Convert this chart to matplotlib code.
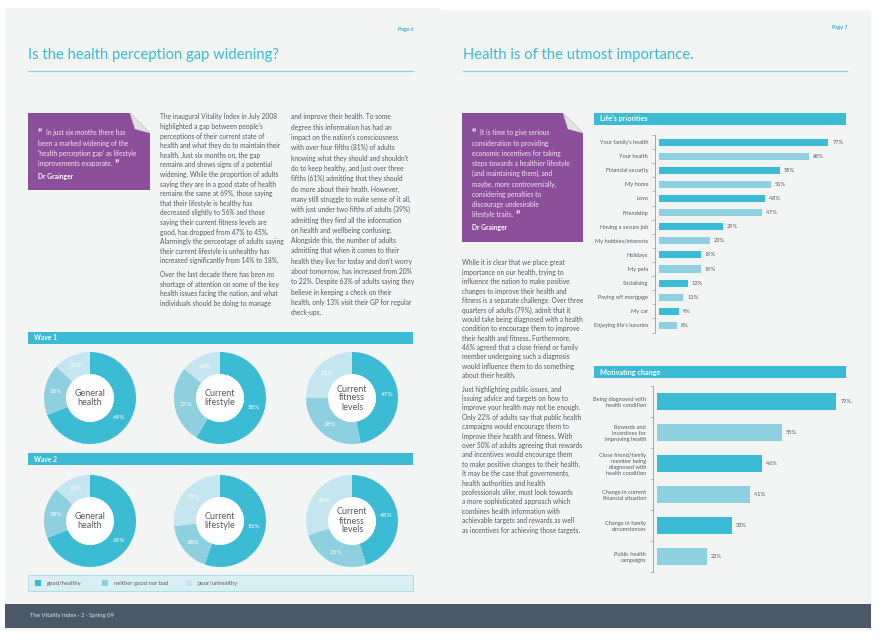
import matplotlib
matplotlib.use('Agg')
import matplotlib.pyplot as plt
from matplotlib.patches import Rectangle, Polygon, Circle
import numpy as np

plt.rcParams['font.family'] = ['Lato', 'DejaVu Sans']

W, H = 880, 640

donut_titles = ['General\nhealth', 'Current\nlifestyle', 'Current\nfitness\nlevels']
wave1_good = [69, 58, 47]
wave1_neither = [18, 27, 28]
wave1_poor = [13, 14, 25]
wave2_good = [69, 56, 45]
wave2_neither = [18, 18, 25]
wave2_poor = [13, 27, 30]
legend_labels = ['good/healthy', 'neither good nor bad', 'poor/unhealthy']

priorities = ["Your family's health", 'Your health', 'Financial security', 'My home',
              'Love', 'Friendship', 'Having a secure job', 'My hobbies/interests',
              'Holidays', 'My pets', 'Socialising', 'Paying off mortgage', 'My car',
              "Enjoying life's luxuries"]
priority_values = [77, 68, 55, 51, 48, 47, 29, 23, 19, 19, 13, 11, 9, 8]

motivators = ['Being diagnosed with\nhealth condition',
              'Rewards and\nincentives for\nimproving health',
              'Close friend/family\nmember being\ndiagnosed with\nhealth condition',
              'Change in current\nfinancial situation',
              'Change in family\ncircumstances',
              'Public health\ncampaigns']
motivator_values = [79, 55, 46, 41, 33, 22]

quote_left = ["In just six months there has",
              "been a marked widening of the",
              "'health perception gap' as lifestyle",
              "improvements evaporate."]
quote_right = ["It is time to give serious",
               "consideration to providing",
               "economic incentives for taking",
               "steps towards a healthier lifestyle",
               "(and maintaining them), and",
               "maybe, more controversially,",
               "considering penalties to",
               "discourage undesirable",
               "lifestyle traits."]

col1 = ["The inaugural Vitality Index in July 2008",
        "highlighted a gap between people's",
        "perceptions of their current state of",
        "health and what they do to maintain their",
        "health. Just six months on, the gap",
        "remains and shows signs of a potential",
        "widening. While the proportion of adults",
        "saying they are in a good state of health",
        "remains the same at 69%, those saying",
        "that their lifestyle is healthy has",
        "decreased slightly to 56% and those",
        "saying their current fitness levels are",
        "good, has dropped from 47% to 45%.",
        "Alarmingly the percentage of adults saying",
        "their current lifestyle is unhealthy has",
        "increased significantly from 14% to 18%.",
        "",
        "Over the last decade there has been no",
        "shortage of attention on some of the key",
        "health issues facing the nation, and what",
        "individuals should be doing to manage"]
col2 = ["and improve their health. To some",
        "degree this information has had an",
        "impact on the nation's consciousness",
        "with over four fifths (81%) of adults",
        "knowing what they should and shouldn't",
        "do to keep healthy, and just over three",
        "fifths (61%) admitting that they should",
        "do more about their heath. However,",
        "many still struggle to make sense of it all,",
        "with just under two fifths of adults (39%)",
        "admitting they find all the information",
        "on health and wellbeing confusing.",
        "Alongside this, the number of adults",
        "admitting that when it comes to their",
        "health they live for today and don't worry",
        "about tomorrow, has increased from 20%",
        "to 22%. Despite 63% of adults saying they",
        "believe in keeping a check on their",
        "health, only 13% visit their GP for regular",
        "check-ups."]
col3 = ["While it is clear that we place great",
        "importance on our health, trying to",
        "influence the nation to make positive",
        "changes to improve their health and",
        "fitness is a separate challenge. Over three",
        "quarters of adults (79%), admit that it",
        "would take being diagnosed with a health",
        "condition to encourage them to improve",
        "their health and fitness. Furthermore,",
        "46% agreed that a close friend or family",
        "member undergoing such a diagnosis",
        "would influence them to do something",
        "about their health.",
        "",
        "Just highlighting public issues, and",
        "issuing advice and targets on how to",
        "improve your health may not be enough.",
        "Only 22% of adults say that public health",
        "campaigns would encourage them to",
        "improve their health and fitness. With",
        "over 50% of adults agreeing that rewards",
        "and incentives would encourage them",
        "to make positive changes to their health.",
        "It may be the case that governments,",
        "health authorities and health",
        "professionals alike, must look towards",
        "a more sophisticated approach which",
        "combines health information with",
        "achievable targets and rewards as well",
        "as incentives for achieving those targets."]

# ---- colours ----
C_GOOD = '#3bbbd4'
C_MID = '#8ecfe0'
C_POOR = '#c6e6ef'
C_PURPLE = '#8c4f9a'
C_TEXT = '#565c62'
C_PAGE = '#f3f4f4'
C_FOOT = '#4b5866'


def frac(x, y, w, h):
    return [x / W, 1 - (y + h) / H, w / W, h / H]


fig = plt.figure(figsize=(8.8, 6.4), dpi=100, facecolor='white')
bg = fig.add_axes([0, 0, 1, 1])
bg.set_xlim(0, W)
bg.set_ylim(H, 0)
bg.axis('off')

# pages
bg.add_patch(Rectangle((5, 8), 434, 622, fc=C_PAGE, ec='none'))
bg.add_patch(Rectangle((439, 10), 432, 620, fc=C_PAGE, ec='none'))
grad = np.linspace(0, 1, 40).reshape(1, -1)
bg.imshow(grad, extent=(415, 439, 630, 8), cmap='Greys', vmin=-3, vmax=4, alpha=0.3, aspect='auto')
bg.imshow(grad[:, ::-1], extent=(439, 452, 630, 10), cmap='Greys', vmin=-3, vmax=4, alpha=0.25, aspect='auto')
bg.set_xlim(0, W)
bg.set_ylim(H, 0)
bg.add_patch(Rectangle((5, 604), 866, 24, fc=C_FOOT, ec='none'))
bg.text(30, 616, 'The Vitality Index \u00b7 2 \u00b7 Spring 09', color='#dfe4e8', fontsize=4.3, va='center')

# titles
bg.text(28, 55, 'Is the health perception gap widening?', color=C_GOOD, fontsize=10.6, va='center')
bg.text(463, 55, 'Health is of the utmost importance.', color=C_GOOD, fontsize=10.6, va='center')
bg.plot([28, 413], [71, 71], color='#8dd2e3', lw=0.9)
bg.plot([463, 847], [71, 71], color='#8dd2e3', lw=0.9)
bg.text(413, 30, 'Page 6', color=C_GOOD, fontsize=3.8, ha='right', va='center', fontweight='bold')
bg.text(847, 28, 'Page 7', color=C_GOOD, fontsize=3.8, ha='right', va='center', fontweight='bold')


def quote_box(x0, y0, x1, y1, lines, line_y, tx):
    bg.add_patch(Polygon([(x0, y0), (x1 - 20, y0), (x1, y0 + 20), (x1, y1), (x0, y1)],
                         closed=True, fc=C_PURPLE, ec='none'))
    bg.add_patch(Polygon([(x1 - 20, y0), (x1, y0 + 20), (x1 - 15, y0 + 16)],
                         closed=True, fc='#e2e2e2', ec='#c9c9c9', lw=0.4))
    bg.text(tx, line_y + 1, '\u201c', color='white', fontsize=8, va='center',
            fontweight='bold')
    for i, s in enumerate(lines):
        x = tx + 8 if i == 0 else tx
        t = bg.text(x, line_y + i * 10.2, s, color='#f1e8f3', fontsize=4.8, va='center')
    # closing quote after last line
    fig.canvas.draw()
    bb = t.get_window_extent().transformed(bg.transData.inverted())
    bg.text(bb.x1 + 2, line_y + (len(lines) - 1) * 10.2 + 1, '\u201d', color='white',
            fontsize=8, va='center', fontweight='bold')
    bg.text(tx, line_y + len(lines) * 10.2 + 3, 'Dr Grainger', color='white',
            fontsize=4.9, va='center', fontweight='bold')


quote_box(28, 113, 150, 190, quote_left, 133, 38)
quote_box(462, 113, 583, 242, quote_right, 133, 472)


def text_block(x, y, lines, step=10.0, gap=4):
    for s in lines:
        if s == '':
            y += gap
            continue
        bg.text(x, y, s, color=C_TEXT, fontsize=4.8, va='center')
        y += step


text_block(160, 117, col1, 9.6)
text_block(291, 117, col2, 10.3)
text_block(462, 263, col3, 9.4)

# donut section headers
for y, name in [(332, 'Wave 1'), (453, 'Wave 2')]:
    bg.add_patch(Rectangle((28, y), 385, 12, fc=C_GOOD, ec='none'))
    bg.text(34, y + 6, name, color='white', fontsize=4.8, fontweight='bold', va='center')


def donut(cx, cy, vals, title):
    r = 46
    ax = fig.add_axes(frac(cx - r, cy - r, 2 * r, 2 * r))
    wedges, _ = ax.pie(vals, colors=[C_GOOD, C_MID, C_POOR], startangle=90,
                       counterclock=False, radius=1,
                       wedgeprops=dict(width=0.48, edgecolor='none'))
    ax.add_patch(Circle((0, 0), 0.52, fc='white', ec='none'))
    for wdg, v in zip(wedges, vals):
        ang = np.deg2rad((wdg.theta1 + wdg.theta2) / 2)
        ax.text(0.76 * np.cos(ang), 0.76 * np.sin(ang), f'{v}%', ha='center',
                va='center', color='white', fontsize=4.6)
    ax.text(0, 0, title, ha='center', va='center', fontsize=6.5, color='#555a5f',
            linespacing=1.0)
    ax.set_xlim(-1, 1)
    ax.set_ylim(-1, 1)
    ax.set_aspect('equal')
    ax.axis('off')


centers_x = [90, 220, 352]
for i in range(3):
    donut(centers_x[i], 398, [wave1_good[i], wave1_neither[i], wave1_poor[i]], donut_titles[i])
    donut(centers_x[i], 521, [wave2_good[i], wave2_neither[i], wave2_poor[i]], donut_titles[i])

# legend strip
bg.add_patch(Rectangle((28, 575), 385, 16, fc='#d9eff4', ec='#a9dbe7', lw=0.6))
for lx, col, lab in zip([35, 102, 186], [C_GOOD, C_MID, C_POOR], legend_labels):
    bg.add_patch(Rectangle((lx, 580), 6, 6, fc=col, ec='none'))
    bg.text(lx + 12, 583, lab, color=C_TEXT, fontsize=4.2, va='center')

# right page bar charts
for y, name in [(113, "Life's priorities"), (366, 'Motivating change')]:
    bg.add_patch(Rectangle((594, y), 252, 12, fc=C_GOOD, ec='none'))
    bg.text(600, y + 6, name, color='white', fontsize=5.2, fontweight='bold', va='center')


def hbar(rect, labels, vals, ppu, bar_h, fs):
    x, y, w, h = rect
    ax = fig.add_axes(frac(x, y, w, h))
    ax.patch.set_alpha(0)
    pos = np.arange(len(vals))
    cols = [C_GOOD if i % 2 == 0 else C_MID for i in pos]
    ax.barh(pos, vals, height=bar_h, color=cols)
    ax.set_ylim(len(vals) - 0.5, -0.5)
    ax.set_xlim(-1.8, w / ppu - 1.8)
    for s in ['top', 'right', 'bottom']:
        ax.spines[s].set_visible(False)
    ax.spines['left'].set_color('#9a9a9a')
    ax.spines['left'].set_linewidth(0.6)
    ax.set_xticks([])
    ax.set_yticks(pos)
    ax.set_yticklabels(labels, fontsize=fs, color=C_TEXT, linespacing=1.2)
    ax.set_yticks(np.arange(-0.5, len(vals), 1), minor=True)
    ax.tick_params(axis='y', which='major', length=0, pad=5)
    ax.tick_params(axis='y', which='minor', length=2.5, width=0.5, color='#9a9a9a')
    for p, v in zip(pos, vals):
        ax.text(v + 1.8, p, f'{v}%', va='center', fontsize=fs, color=C_TEXT)


hbar((655, 135, 191, 197.5), priorities, priority_values, 2.2, 0.5, 4.1)
hbar((653, 386, 193, 186), motivators, motivator_values, 2.27, 0.52, 4.1)

fig.savefig('out.png', dpi=100, facecolor='white')
